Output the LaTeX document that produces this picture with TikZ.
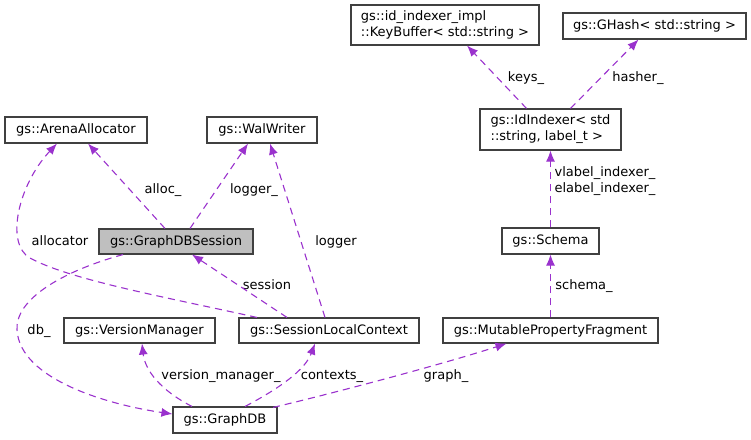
\documentclass[tikz,border=0pt]{standalone}
\usepackage{fontspec}
\setmainfont{DejaVu Sans}
\usetikzlibrary{arrows.meta}

\definecolor{edgepurple}{RGB}{154,50,205}
\definecolor{nodegray}{RGB}{191,191,191}

\begin{document}
\begin{tikzpicture}[x=1pt, y=-1pt, >={Latex[length=11pt,width=9pt]}, font=\fontsize{13}{16}\selectfont]
        % Define block styles
        \tikzstyle{block} = [draw=black!75, line width=1.1pt, fill=white, rectangle, minimum height=26pt, inner sep=0pt, text centered]
        \tikzstyle{current} = [block, fill=nodegray]
        \tikzstyle{link} = [->, draw=edgepurple, line width=1.1pt, dash pattern=on 7pt off 5pt]
        \tikzstyle{lbl} = [inner sep=0pt, text height=9.5pt, text depth=0pt]

        \useasboundingbox (0,0) rectangle (751,439);

        % Nodes
        \node [block, minimum width=142pt] (arena) at (76,130) {gs::ArenaAllocator};
        \node [block, minimum width=110pt] (wal) at (262,130) {gs::WalWriter};
        \node [current, minimum width=154pt, minimum height=25pt] (session) at (176,241.5) {gs::GraphDBSession};
        \node [block, minimum width=188pt, minimum height=40pt, align=left] (keybuf) at (445,25) {gs::id\_indexer\_impl\\::KeyBuffer< std::string >};
        \node [block, minimum width=183pt] (ghash) at (654.5,26) {gs::GHash< std::string >};
        \node [block, minimum width=141pt, minimum height=41pt, align=left] (idindexer) at (550.5,129.5) {gs::IdIndexer< std\\::string, label\_t >};
        \node [block, minimum width=97pt] (schema) at (550.5,241) {gs::Schema};
        \node [block, minimum width=215pt, minimum height=25pt] (fragment) at (550.5,330.5) {gs::MutablePropertyFragment};
        \node [block, minimum width=180pt, minimum height=25pt] (context) at (329,330.5) {gs::SessionLocalContext};
        \node [block, minimum width=151pt, minimum height=25pt] (version) at (139.5,330.5) {gs::VersionManager};
        \node [block, minimum width=104pt] (graphdb) at (225,420) {gs::GraphDB};

        % Edge labels
        \node [lbl] (l-alloc) at (163,189) {alloc\_};
        \node [lbl] (l-logger-) at (254,189) {logger\_};
        \node [lbl] (l-allocator) at (60,241) {allocator};
        \node [lbl] (l-logger) at (336,241) {logger};
        \node [lbl] (l-session) at (267,285) {session};
        \node [lbl] (l-db) at (39,330) {db\_};
        \node [lbl] (l-version) at (221,375) {version\_manager\_};
        \node [lbl] (l-contexts) at (332,375) {contexts\_};
        \node [lbl] (l-graph) at (446,375) {graph\_};
        \node [lbl] (l-schema) at (584,285) {schema\_};
        \node [lbl, align=center] (l-indexer) at (605,188) {vlabel\_indexer\_\\elabel\_indexer\_};
        \node [lbl] (l-keys) at (526,77) {keys\_};
        \node [lbl] (l-hasher) at (638,77) {hasher\_};

        % Edges
        \draw [link] ([xshift=-11pt]session.north) -- ([xshift=12pt]arena.south);
        \draw [link] ([xshift=14pt]session.north) -- ([xshift=-14pt]wal.south);
        \draw [link] ([xshift=-72pt]context.north) .. controls (170,298) and (70,280) .. (30,258)
              .. controls (5,244) and (18,185) .. ([xshift=-19pt]arena.south);
        \draw [link] ([xshift=-4pt]context.north) -- ([xshift=8pt]wal.south);
        \draw [link] ([xshift=-42pt]context.north) -- ([xshift=16pt]session.south);
        \draw [link] ([xshift=-53pt]session.south) .. controls (60,272) and (15,300) .. (17,330)
              .. controls (20,380) and (110,405) .. ([yshift=6pt]graphdb.west);
        \draw [link] ([xshift=-33pt]graphdb.north) .. controls (160,390) and (145,370) .. ([xshift=2.5pt]version.south);
        \draw [link] ([xshift=20pt]graphdb.north) .. controls (280,388) and (305,370) .. ([xshift=-14pt]context.south);
        \draw [link] ([xshift=48pt,yshift=-1pt]graphdb.north) .. controls (330,394) and (440,365) .. ([xshift=-44pt]fragment.south);
        \draw [link] (fragment.north) -- (schema.south);
        \draw [link] (schema.north) -- (idindexer.south);
        \draw [link] ([xshift=-24pt]idindexer.north) -- ([xshift=22pt]keybuf.south);
        \draw [link] ([xshift=20pt]idindexer.north) -- ([xshift=-16pt]ghash.south);
    \end{tikzpicture}
\end{document}
